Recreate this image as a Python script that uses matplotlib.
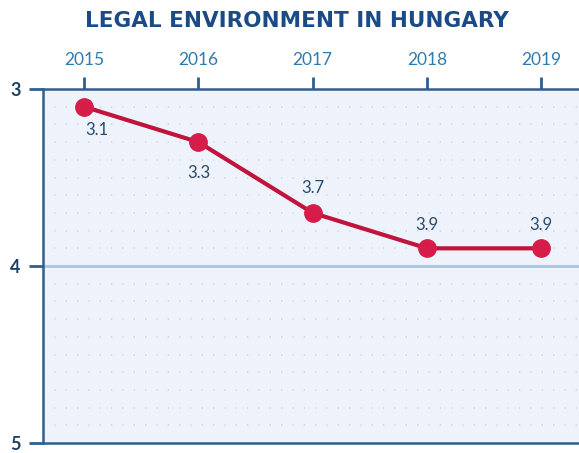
import numpy as np
import matplotlib
matplotlib.use("Agg")
import matplotlib.pyplot as plt

# =====================================================
# DATA
# =====================================================

years = [2015, 2016, 2017, 2018, 2019]
scores = [3.1, 3.3, 3.7, 3.9, 3.9]
labels = ["3.1", "3.3", "3.7", "3.9", "3.9"]

# label offsets (points) relative to each marker
label_offsets = [(9, -17), (0, -22), (0, 18), (0, 16.5), (0, 16.5)]

plt.rcParams["font.family"] = ["Lato", "DejaVu Sans"]

# =====================================================
# FIGURE
# =====================================================

fig = plt.figure(figsize=(5.79, 4.53), dpi=100)
ax = fig.add_axes([0.0743, 0.022, 0.9257, 0.7815])
ax.set_facecolor("#eef3fb")

ax.set_xlim(2014.64, 2019.33)
ax.set_ylim(5, 3)

# dotted background grid
for yy in np.arange(3.1, 5.0, 0.1):
    ax.axhline(yy, color="#cbd7e8", linestyle=(0, (0.8, 6)),
               linewidth=1.2, zorder=0)

ax.axhline(4, color="#a9c6e0", linewidth=2, zorder=1)

ax.plot(years, scores, color="#c0143c", linewidth=3,
        marker="o", markersize=12.5, markerfacecolor="#d61c48",
        markeredgecolor="#d61c48", zorder=3)

for x, y, t, off in zip(years, scores, labels, label_offsets):
    ax.annotate(t, (x, y), xytext=off, textcoords="offset points",
                ha="center", va="center", fontsize=12, color="#2a4a6e")

# =====================================================
# AXES STYLE
# =====================================================

ax.xaxis.tick_top()
ax.set_xticks(years)
ax.set_xticklabels([str(y) for y in years])
ax.tick_params(axis="x", direction="out", length=9, width=2,
               color="#2d5f8f", labelcolor="#2f7bb0", labelsize=12.5, pad=6)

ax.set_yticks([3, 4, 5])
ax.set_yticklabels(["3", "4", "5"], fontweight="bold")
ax.tick_params(axis="y", direction="out", length=10, width=2,
               color="#2d5f8f", labelcolor="#1f3f66", labelsize=13, pad=6)

for side in ["top", "left", "bottom"]:
    ax.spines[side].set_color("#2d5f8f")
    ax.spines[side].set_linewidth(1.8)
ax.spines["right"].set_visible(False)

fig.text(0.512, 0.953, "LEGAL ENVIRONMENT IN HUNGARY", ha="center",
         va="center", fontsize=15.5, fontweight="bold", color="#1a4a87",
         family="DejaVu Sans")

fig.savefig("out.png", dpi=100, facecolor="white")
